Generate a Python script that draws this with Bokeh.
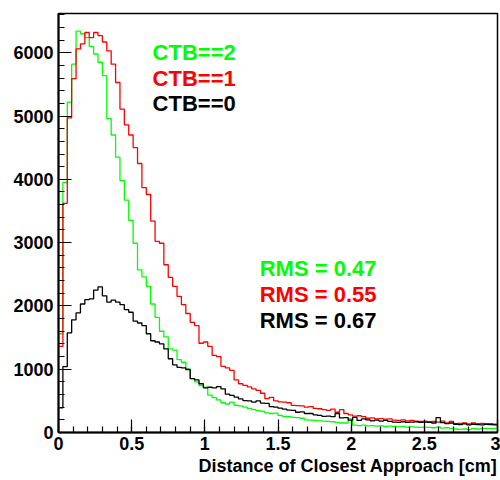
import numpy as np
from bokeh.plotting import figure
from bokeh.models import Range1d, FixedTicker, Label, Title
from bokeh.embed import file_html
from bokeh.resources import INLINE

# ---------------- data ----------------
x_lo, x_hi, n_bins = 0.0, 3.0, 100

ctb2 = [1560, 3950, 5220, 5820, 6340, 6300, 6240, 6100, 5980, 5850,
        5640, 4960, 4700, 4350, 3980, 3670, 3350, 2990, 2570, 2460,
        2310, 2030, 1820, 1600, 1510, 1320, 1300, 1150, 1110, 1000,
        850, 800, 740, 715, 590, 550, 515, 470, 450, 480,
        430, 420, 400, 380, 360, 345, 335, 310, 300, 305,
        270, 255, 250, 240, 235, 225, 200, 195, 190, 185,
        180, 175, 170, 160, 150, 150, 215, 115, 110, 115,
        105, 110, 100, 105, 95, 100, 95, 90, 95, 85,
        90, 85, 80, 85, 80, 75, 85, 70, 75, 65,
        55, 50, 55, 45, 60, 55, 60, 65, 60, 65]

ctb1 = [1360, 3620, 4970, 5590, 6060, 6140, 6320, 6240, 6320, 6270,
        6170, 6030, 5820, 5530, 5110, 4860, 4700, 4500, 4250, 3870,
        3760, 3340, 3020, 2990, 2650, 2450, 2310, 2150, 2020, 1880,
        1740, 1690, 1410, 1430, 1360, 1220, 1200, 1045, 1020, 980,
        830, 770, 745, 720, 690, 665, 620, 535, 555, 500,
        485, 480, 470, 430, 425, 420, 400, 410, 380, 375,
        360, 350, 370, 320, 360, 300, 280, 260, 265, 250,
        225, 230, 215, 220, 210, 215, 195, 190, 200, 185,
        190, 180, 175, 180, 170, 175, 165, 180, 150, 175,
        140, 145, 150, 135, 150, 140, 145, 135, 140, 130]

ctb0 = [390, 1040, 1575, 1780, 1890, 2030, 2100, 2110, 2250, 2300,
        2160, 2060, 2090, 2060, 2020, 1940, 1900, 1760, 1730, 1690,
        1560, 1450, 1430, 1400, 1320, 1165, 1070, 1030, 1020, 995,
        850, 830, 770, 705, 715, 705, 725, 690, 605, 585,
        560, 530, 505, 500, 480, 500, 465, 460, 410, 400,
        385, 370, 355, 350, 320, 325, 300, 300, 280, 270,
        255, 260, 250, 300, 230, 235, 195, 240, 190, 215,
        200, 185, 195, 180, 190, 175, 165, 160, 170, 160,
        165, 170, 160, 165, 160, 150, 235, 155, 140, 150,
        130, 125, 135, 120, 130, 125, 120, 130, 125, 120]

x_ticks = [0, 0.5, 1, 1.5, 2, 2.5, 3]
x_tick_labels = ["0", "0.5", "1", "1.5", "2", "2.5", "3"]
y_ticks = [0, 1000, 2000, 3000, 4000, 5000, 6000]
y_tick_labels = ["0", "1000", "2000", "3000", "4000", "5000", "6000"]

series_names = ["CTB==2", "CTB==1", "CTB==0"]
rms_labels = ["RMS = 0.47", "RMS = 0.55", "RMS = 0.67"]
colors = ["#00ff00", "#ff0000", "#000000"]
x_title = "Distance of Closest Approach [cm]"

# ---------------- figure ----------------
FONT = "Liberation Sans"
y_top = 6620

p = figure(width=500, height=480, output_backend="svg", toolbar_location=None,
           x_range=Range1d(x_lo, x_hi), y_range=Range1d(0, y_top),
           min_border_left=58, min_border_right=3, min_border_top=13,
           min_border_bottom=48)
p.background_fill_color = "white"
p.border_fill_color = "white"
p.grid.visible = False
p.outline_line_color = "black"
p.outline_line_width = 1.5

edges = np.linspace(x_lo, x_hi, n_bins + 1)
for vals, col in zip([ctb2, ctb1, ctb0], colors):
    yy = np.append(np.array(vals, dtype=float), vals[-1])
    p.step(edges, yy, mode="after", line_color=col, line_width=1.3)

# axes
xminor = [round(v, 2) for v in np.arange(x_lo, x_hi + 1e-9, 0.1)]
yminor = list(range(0, y_top, 200))
p.xaxis.ticker = FixedTicker(ticks=x_ticks, minor_ticks=xminor)
p.yaxis.ticker = FixedTicker(ticks=y_ticks, minor_ticks=yminor)
p.xaxis.major_label_overrides = {t: l for t, l in zip(x_ticks, x_tick_labels)}
p.yaxis.major_label_overrides = {t: l for t, l in zip(y_ticks, y_tick_labels)}

for ax in (p.xaxis, p.yaxis):
    ax.axis_line_width = 2
    ax.axis_line_color = "black"
    ax.major_tick_in = 13
    ax.major_tick_out = 0
    ax.minor_tick_in = 6
    ax.minor_tick_out = 0
    ax.major_tick_line_width = 1.2
    ax.minor_tick_line_width = 1.2
    ax.major_label_text_font = FONT
    ax.major_label_text_font_style = "bold"
    ax.major_label_text_font_size = "18px"
    ax.major_label_text_color = "black"
p.xaxis.major_label_standoff = 4
p.yaxis.major_label_standoff = 5

# x axis title, right aligned at end of axis
p.add_layout(Title(text=x_title, align="right", text_font=FONT,
                   text_font_style="bold", text_font_size="18px",
                   text_color="black", standoff=2, offset=0), "below")

# legend-like texts
ctb_y = [6000, 5600, 5200]
for name, col, yv in zip(series_names, colors, ctb_y):
    p.add_layout(Label(x=0.643, y=yv, text=name, text_align="left",
                       text_baseline="middle", text_font=FONT,
                       text_font_style="bold", text_font_size="22px",
                       text_color=col))

rms_y = [2591, 2180, 1769]
for name, col, yv in zip(rms_labels, colors, rms_y):
    p.add_layout(Label(x=1.375, y=yv, text=name, text_align="left",
                       text_baseline="middle", text_font=FONT,
                       text_font_style="bold", text_font_size="22px",
                       text_color=col))

open("out.html", "w").write(file_html(p, INLINE))
